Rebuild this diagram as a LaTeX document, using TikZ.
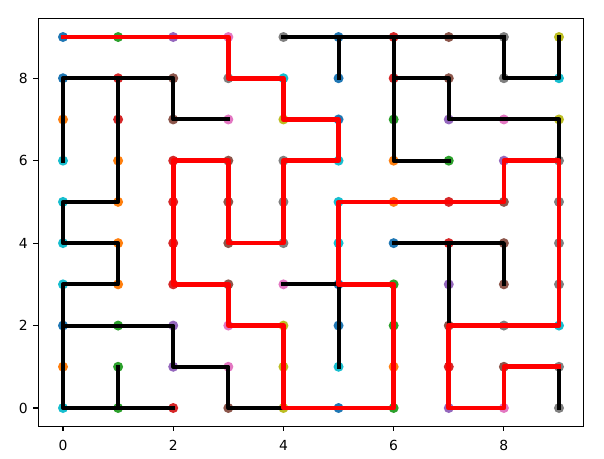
\documentclass[tikz,border=0pt]{standalone}
\usepackage{fontspec}
\setmainfont{DejaVu Sans}
\definecolor{tB}{HTML}{1F77B4}
\definecolor{tO}{HTML}{FF7F0E}
\definecolor{tG}{HTML}{2CA02C}
\definecolor{tR}{HTML}{D62728}
\definecolor{tP}{HTML}{9467BD}
\definecolor{tN}{HTML}{8C564B}
\definecolor{tK}{HTML}{E377C2}
\definecolor{tY}{HTML}{7F7F7F}
\definecolor{tL}{HTML}{BCBD22}
\definecolor{tC}{HTML}{17BECF}
\tikzset{
  wall/.style={black, line width=4pt, line cap=rect, line join=round},
  solpath/.style={red, line width=4.6pt, line cap=rect, line join=round},
  frame/.style={black, line width=1.1pt},
  tick/.style={black, line width=1.1pt},
  ticklabel/.style={inner sep=0pt, font=\fontsize{13.9}{16}\selectfont}
}
\begin{document}
\begin{tikzpicture}[x=55.11pt, y=41.22pt]
\useasboundingbox (-63pt,-50pt) rectangle (541pt,408pt);
\fill[white] (-63pt,-50pt) rectangle (541pt,408pt);
% grid points and dots
\foreach \y/\row in {
  9/{B,G,P,K,Y,B,R,N,Y,L},
  8/{B,R,N,Y,C,B,R,N,Y,C},
  7/{O,R,N,K,L,B,G,P,K,L},
  6/{C,O,R,N,Y,C,O,G,P,Y},
  5/{C,O,R,N,Y,C,O,R,N,Y},
  4/{C,O,R,N,Y,C,B,R,N,Y},
  3/{C,O,R,N,K,B,G,P,N,Y},
  2/{B,G,P,K,L,B,G,N,Y,C},
  1/{O,G,P,K,L,C,O,R,N,Y},
  0/{C,G,R,N,L,B,G,P,K,Y}} {
  \foreach \c [count=\i from 0] in \row {
    \coordinate (p-\i-\y) at (\i,\y);
    \fill[t\c] (p-\i-\y) circle (5pt);
  }
}
% walls (black tree edges)
\draw[wall] (p-4-9) -- (p-5-9) -- (p-6-9) -- (p-7-9) -- (p-8-9);
\draw[wall] (p-5-9) -- (p-5-8);
\draw[wall] (p-6-9) -- (p-6-8) -- (p-6-7) -- (p-6-6) -- (p-7-6);
\draw[wall] (p-6-8) -- (p-7-8) -- (p-7-7) -- (p-8-7) -- (p-9-7) -- (p-9-6);
\draw[wall] (p-8-9) -- (p-8-8) -- (p-9-8) -- (p-9-9);
\draw[wall] (p-3-7) -- (p-2-7) -- (p-2-8) -- (p-1-8) -- (p-0-8) -- (p-0-7) -- (p-0-6);
\draw[wall] (p-1-8) -- (p-1-7) -- (p-1-6) -- (p-1-5) -- (p-0-5) -- (p-0-4) -- (p-1-4) -- (p-1-3) -- (p-0-3) -- (p-0-2) -- (p-0-1) -- (p-0-0) -- (p-1-0) -- (p-2-0);
\draw[wall] (p-0-2) -- (p-1-2) -- (p-2-2) -- (p-2-1) -- (p-3-1) -- (p-3-0) -- (p-4-0);
\draw[wall] (p-1-1) -- (p-1-0);
\draw[wall] (p-4-3) -- (p-5-3) -- (p-5-2) -- (p-5-1);
\draw[wall] (p-6-4) -- (p-7-4) -- (p-8-4) -- (p-8-3);
\draw[wall] (p-7-4) -- (p-7-3) -- (p-7-2);
\draw[wall] (p-9-1) -- (p-9-0);
% solution path
\draw[solpath] (p-0-9) -- (p-3-9) -- (p-3-8) -- (p-4-8) -- (p-4-7) -- (p-5-7) -- (p-5-6) -- (p-4-6) -- (p-4-4) -- (p-3-4) -- (p-3-6) -- (p-2-6) -- (p-2-3) -- (p-3-3) -- (p-3-2) -- (p-4-2) -- (p-4-0) -- (p-6-0) -- (p-6-3) -- (p-5-3) -- (p-5-5) -- (p-8-5) -- (p-8-6) -- (p-9-6) -- (p-9-2) -- (p-7-2) -- (p-7-0) -- (p-8-0) -- (p-8-1) -- (p-9-1);
% axes frame
\draw[frame] (-0.45,-0.45) rectangle (9.45,9.45);
\foreach \t in {0,2,4,6,8} {
  \draw[tick] (\t,-0.45) -- ++(0,-4.9pt);
  \node[ticklabel, anchor=base] (xl\t) at ([yshift=-42pt]\t,0) {\t};
  \draw[tick] (-0.45,\t) -- ++(-4.9pt,0);
  \node[ticklabel, anchor=east] (yl\t) at ([xshift=-35pt]0,\t) {\t};
}
\end{tikzpicture}
\end{document}
